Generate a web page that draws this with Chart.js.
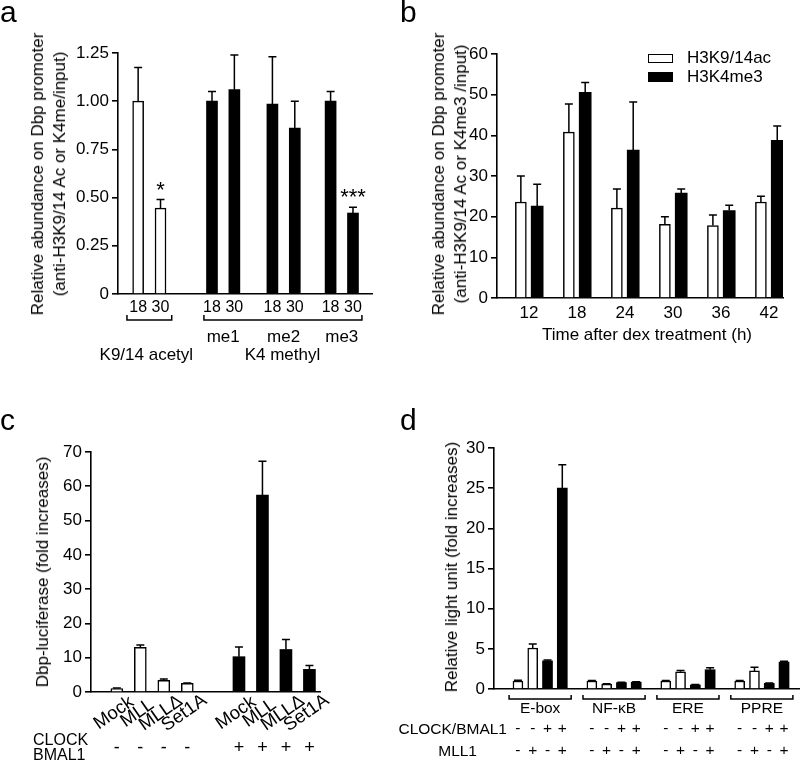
<!DOCTYPE html>
<html>
<head>
<meta charset="utf-8">
<script src="https://cdn.jsdelivr.net/npm/chart.js@4.4.0/dist/chart.umd.min.js"></script>
<style>
body { margin: 0; background: #fff; font-family: "Liberation Sans", Arial, sans-serif; color: #000; }
#fig { position: relative; width: 800px; height: 761px; overflow: hidden; }
canvas { position: absolute; }
.t { position: absolute; white-space: nowrap; font-size: 17px; transform: translate(-50%, -50%); }
.rot { transform: translate(-50%, -50%) rotate(-90deg); text-align: center; line-height: 22px; }
.lt { position: absolute; white-space: nowrap; font-size: 17px; transform: translateY(-50%); }
.rt { position: absolute; white-space: nowrap; font-size: 15.5px; transform: translate(-100%, -50%); }
.let { position: absolute; font-size: 30px; line-height: 30px; }
.box { position: absolute; width: 25px; box-sizing: border-box; }
</style>
</head>
<body>
<div id="fig">
  <canvas id="ca" width="400" height="380" style="left:0;top:0"></canvas>
  <canvas id="cb" width="400" height="380" style="left:400px;top:0"></canvas>
  <canvas id="cc" width="400" height="381" style="left:0;top:380px"></canvas>
  <canvas id="cd" width="400" height="381" style="left:400px;top:380px"></canvas>

  <div class="let" style="left:0;top:-3px">a</div>
  <div class="let" style="left:400px;top:-3px">b</div>
  <div class="let" style="left:0;top:405px">c</div>
  <div class="let" style="left:400px;top:405px">d</div>

  <div class="t rot" style="left:49px;top:174px">Relative abundance on Dbp promoter<br>(anti-H3K9/14 Ac or K4me/input)</div>
  <div class="t rot" style="left:450px;top:174px">Relative abundance on Dbp promoter<br>(anti-H3K9/14 Ac or K4me3 /input)</div>
  <div class="t rot" style="left:43px;top:572px">Dbp-luciferase (fold increases)</div>
  <div class="t rot" style="left:452px;top:567px">Relative light unit (fold increases)</div>

  <div class="t" style="left:647px;top:335px">Time after dex treatment (h)</div>

  <div class="box" style="left:648px;top:54px;height:9px;border:1.5px solid #000;background:#fff"></div>
  <div class="box" style="left:648px;top:72px;height:10px;background:#000"></div>
  <div class="lt" style="left:687px;top:58px">H3K9/14ac</div>
  <div class="lt" style="left:687px;top:77px">H3K4me3</div>

  <div class="lt" style="left:33px;top:740px;font-size:16px">CLOCK</div>
  <div class="lt" style="left:33px;top:755px;font-size:16px">BMAL1</div>

  <div class="rt" style="left:507px;top:729px">CLOCK/BMAL1</div>
  <div class="rt" style="left:477px;top:751px">MLL1</div>
</div>

<script>
// ---- panel a : Dbp promoter, 18 h vs 30 h ----
var aLabels = ['18', '30', '18', '30', '18', '30', '18', '30'];
var aGroups = ['me1', 'me2', 'me3'];
var aAcetyl = [1.00, 0.445];
var aAcetylErr = [0.175, 0.045];
var aMethyl = [1.00, 1.06, 0.985, 0.86, 1.00, 0.42];
var aMethylErr = [0.05, 0.18, 0.245, 0.14, 0.05, 0.03];
var aYTicks = ['0', '0.25', '0.50', '0.75', '1.00', '1.25'];

// ---- panel b : time course ----
var bHours = ['12', '18', '24', '30', '36', '42'];
var bAc = [23.6, 40.8, 22.1, 18.1, 17.8, 23.6];
var bAcErr = [6.4, 6.9, 4.7, 1.9, 2.6, 1.4];
var bMe3 = [22.6, 50.6, 36.4, 25.8, 21.5, 38.8];
var bMe3Err = [5.4, 2.4, 11.8, 1.0, 1.3, 3.5];

// ---- panel c : Dbp-luciferase ----
var cLabels = ['Mock', 'MLL', 'MLL\u0394', 'Set1A'];
var cMinus = [1.0, 13.0, 3.4, 2.5];
var cMinusErr = [0.2, 0.7, 0.4, 0.15];
var cPlus = [10.3, 57.4, 12.4, 6.6];
var cPlusErr = [2.8, 9.9, 2.9, 1.1];

// ---- panel d : reporter elements ----
var dGroups = ['E-box', 'NF-\u03baB', 'ERE', 'PPRE'];
var dClock = ['-', '-', '+', '+'];
var dMll = ['-', '+', '-', '+'];
var dVals = [[1.0, 5.1, 3.5, 25.0], [1.0, 0.6, 0.8, 0.85], [1.0, 2.15, 0.5, 2.4], [1.0, 2.25, 0.7, 3.35]];
var dErr = [[0.1, 0.5, 0.1, 2.9], [0.05, 0.05, 0.05, 0.05], [0.05, 0.15, 0.05, 0.25], [0.05, 0.45, 0.05, 0.1]];

var FONT = '"Liberation Sans", Arial, sans-serif';
Chart.defaults.font.family = FONT;
Chart.defaults.font.size = 17;
Chart.defaults.color = '#000';

// extra drawing per canvas (brackets, signs, stars)
var extras = {};

var errorBars = {
  id: 'errorBars',
  afterDatasetsDraw: function (chart) {
    var ctx = chart.ctx, ys = chart.scales.y;
    ctx.save();
    ctx.strokeStyle = '#000';
    ctx.lineWidth = 1.5;
    chart.data.datasets.forEach(function (ds, i) {
      if (!ds.err) return;
      chart.getDatasetMeta(i).data.forEach(function (bar, j) {
        var top = ys.getPixelForValue(ds.data[j].y + ds.err[j]);
        ctx.beginPath();
        ctx.moveTo(bar.x, bar.y);
        ctx.lineTo(bar.x, top);
        ctx.moveTo(bar.x - 4, top);
        ctx.lineTo(bar.x + 4, top);
        ctx.stroke();
      });
    });
    ctx.restore();
  },
  afterDraw: function (chart) {
    var fn = extras[chart.canvas.id];
    if (!fn) return;
    var ctx = chart.ctx;
    ctx.save();
    ctx.fillStyle = '#000';
    ctx.strokeStyle = '#000';
    ctx.lineWidth = 1.5;
    ctx.textAlign = 'center';
    ctx.textBaseline = 'middle';
    fn(ctx, chart.scales.x, chart.scales.y);
    ctx.restore();
  }
};

function bars(pos, vals, errs, fill, thick) {
  return {
    data: pos.map(function (p, i) { return { x: p, y: vals[i] }; }),
    err: errs,
    backgroundColor: fill,
    borderColor: '#000',
    borderWidth: fill == '#fff' ? 1.5 : 0,
    borderSkipped: 'bottom',
    barThickness: thick,
    grouped: false
  };
}

function bracket(ctx, x1, x2, y, h) {
  ctx.beginPath();
  ctx.moveTo(x1, y - h);
  ctx.lineTo(x1, y);
  ctx.lineTo(x2, y);
  ctx.lineTo(x2, y - h);
  ctx.stroke();
}

function makeChart(id, o) {
  var cv = document.getElementById(id);
  var W = cv.width, H = cv.height, xh = H - o.area.b;
  if (o.extra) extras[id] = o.extra;
  return new Chart(cv, {
    type: 'bar',
    data: { datasets: o.datasets },
    options: {
      responsive: false,
      animation: false,
      layout: { padding: { left: 0, top: o.area.t, right: W - o.area.r, bottom: 0 } },
      plugins: { legend: { display: false }, tooltip: { enabled: false } },
      scales: {
        x: {
          type: 'linear', min: o.xMin, max: o.xMax, z: 1, offset: false,
          grid: { display: false, drawTicks: false },
          border: { display: true, color: '#000', width: 1.6 },
          afterBuildTicks: function (s) { s.ticks = (o.xTicks || []).map(function (v) { return { value: v }; }); },
          ticks: {
            display: !!o.xLabels, autoSkip: false, maxRotation: 0,
            padding: o.xPad || 3, font: { size: o.xFont || 17 },
            callback: function (v, i) { return o.xLabels ? o.xLabels[i] : ''; }
          },
          afterFit: function (s) { s.height = xh; }
        },
        y: {
          min: 0, max: o.yMax, z: 1,
          ticks: {
            stepSize: o.yStep, padding: 3,
            callback: function (v, i) { return o.yTicks ? o.yTicks[i] : v; }
          },
          grid: { display: true, drawOnChartArea: false, drawTicks: true, tickLength: 6, color: '#000', lineWidth: 1.6 },
          border: { display: true, color: '#000', width: 1.6 },
          afterFit: function (s) { s.width = o.area.l; }
        }
      }
    },
    plugins: [errorBars]
  });
}

// panel a
var aPos = [0, 1, 3.3, 4.3, 6, 7, 8.6, 9.6];
makeChart('ca', {
  area: { l: 118, t: 53, r: 372, b: 294 },
  xMin: -0.9, xMax: 10.45, yMax: 1.25, yStep: 0.25, yTicks: aYTicks,
  xTicks: aPos, xLabels: aLabels, xPad: 4, xFont: 16,
  datasets: [
    bars(aPos.slice(0, 2), aAcetyl, aAcetylErr, '#fff', 11),
    bars(aPos.slice(2), aMethyl, aMethylErr, '#000', 11)
  ],
  extra: function (ctx, xs, ys) {
    var X = function (v) { return xs.getPixelForValue(v); };
    bracket(ctx, X(aPos[0] - 0.5), X(aPos[1] + 0.5), 320, 5);
    bracket(ctx, X(aPos[2] - 0.36), X(aPos[7] + 0.4), 320, 5);
    ctx.font = '17px ' + FONT;
    aGroups.forEach(function (g, i) {
      ctx.fillText(g, X((aPos[2 + 2 * i] + aPos[3 + 2 * i]) / 2), 337);
    });
    ctx.fillText('K9/14 acetyl', X((aPos[0] + aPos[1]) / 2) - 3, 355);
    ctx.fillText('K4 methyl', X((aPos[2] + aPos[7]) / 2), 355);
    ctx.font = '22px ' + FONT;
    ctx.textBaseline = 'alphabetic';
    ctx.fillText('*', X(aPos[1]), ys.getPixelForValue(aAcetyl[1] + aAcetylErr[1]) - 3);
    ctx.fillText('***', X(aPos[7]), ys.getPixelForValue(aMethyl[5] + aMethylErr[5]) - 3);
  }
});

// panel b
var bCenters = bHours.map(function (h, i) { return i + 1; });
makeChart('cb', {
  area: { l: 97, t: 54, r: 383, b: 298 },
  xMin: 0.333, xMax: 6.29, yMax: 60, yStep: 10,
  xTicks: bCenters, xLabels: bHours, xPad: 5,
  datasets: [
    bars(bCenters.map(function (c) { return c - 0.17; }), bAc, bAcErr, '#fff', 11),
    bars(bCenters.map(function (c) { return c + 0.17; }), bMe3, bMe3Err, '#000', 12)
  ]
});

// panel c
var cPosMinus = [0, 1, 2, 3];
var cPosPlus = [5.2, 6.2, 7.2, 8.2];
makeChart('cc', {
  area: { l: 91, t: 72, r: 320, b: 312 },
  xMin: -1.1, xMax: 8.65, yMax: 70, yStep: 10,
  datasets: [
    bars(cPosMinus, cMinus, cMinusErr, '#fff', 12),
    bars(cPosPlus, cPlus, cPlusErr, '#000', 12)
  ],
  extra: function (ctx, xs, ys) {
    var all = cPosMinus.concat(cPosPlus);
    ctx.font = '18.5px ' + FONT;
    all.forEach(function (p, i) {
      ctx.save();
      ctx.translate(xs.getPixelForValue(p) - 3, 333);
      ctx.rotate(-35 * Math.PI / 180);
      ctx.fillText(cLabels[i % 4], 0, 0);
      ctx.restore();
    });
    ctx.font = '18px ' + FONT;
    cPosMinus.forEach(function (p) { ctx.fillText('-', xs.getPixelForValue(p), 368); });
    cPosPlus.forEach(function (p) { ctx.fillText('+', xs.getPixelForValue(p), 368); });
  }
});

// panel d
var dW = [], dWErr = [], dB = [], dBErr = [], dPosW = [], dPosB = [];
dGroups.forEach(function (g, gi) {
  for (var j = 0; j < 4; j++) {
    var p = gi * 5 + j;
    if (j < 2) { dPosW.push(p); dW.push(dVals[gi][j]); dWErr.push(dErr[gi][j]); }
    else { dPosB.push(p); dB.push(dVals[gi][j]); dBErr.push(dErr[gi][j]); }
  }
});
makeChart('cd', {
  area: { l: 94, t: 68, r: 400, b: 309 },
  xMin: -1.62, xMax: 19.08, yMax: 30, yStep: 5,
  datasets: [
    bars(dPosW, dW, dWErr, '#fff', 10),
    bars(dPosB, dB, dBErr, '#000', 10)
  ],
  extra: function (ctx, xs, ys) {
    var X = function (v) { return xs.getPixelForValue(v); };
    ctx.font = '15.5px ' + FONT;
    dGroups.forEach(function (g, gi) {
      bracket(ctx, X(gi * 5 - 0.6), X(gi * 5 + 3.6), 319, 4);
      ctx.fillText(g, X(gi * 5 + 1.5), 329);
      for (var j = 0; j < 4; j++) {
        ctx.fillText(dClock[j], X(gi * 5 + j), 349);
        ctx.fillText(dMll[j], X(gi * 5 + j), 371);
      }
    });
  }
});
</script>
</body>
</html>
